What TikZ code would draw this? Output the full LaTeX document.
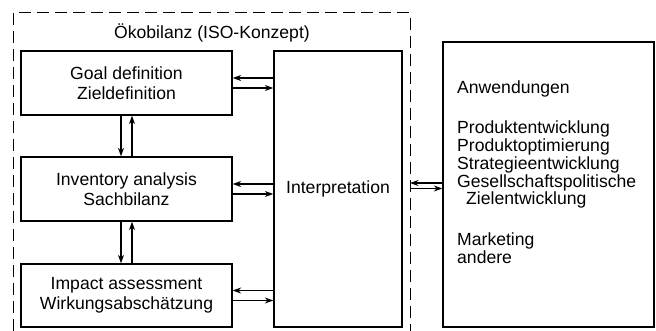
\documentclass[tikz,border=0pt]{standalone}
\usepackage{fontspec}
\setmainfont{Liberation Sans}
\usetikzlibrary{arrows.meta,calc}
\begin{document}
\begin{tikzpicture}[x=1pt,y=-1pt,
  txt/.style={font=\fontsize{17.6}{20.5}\selectfont},
  box/.style={draw,line width=1.3pt,inner sep=0pt,align=center,txt},
  link/.style={line width=1.2pt,-{Stealth[length=8.5pt,width=6pt]}}]
\useasboundingbox (0,0) rectangle (656,331);
% dashed frame of the ISO concept (open at the bottom)
\draw[line width=1pt,dash pattern=on 12pt off 6pt] (13,331) |- (410,13) -- (410,331);
\node[txt] (title) at (212,33) {Ökobilanz (ISO-Konzept)};
% phases
\node[box,minimum width=211pt,minimum height=64pt] (goal) at (126.5,83) {Goal definition\\Zieldefinition};
\node[box,minimum width=211pt,minimum height=64pt] (inv) at (126.5,189) {Inventory analysis\\Sachbilanz};
\node[box,minimum width=211pt,minimum height=63pt] (imp) at (126.5,295.5) {Impact assessment\\Wirkungsabschätzung};
\node[box,minimum width=128pt,minimum height=276pt] (interp) at (338,189) {Interpretation};
% applications
\node[box,minimum width=211pt,minimum height=285pt] (anw) at (548.5,184.5) {};
\node[anchor=north west,align=left,inner sep=0pt,font=\fontsize{17.6}{17.8}\selectfont] (anwtext) at (457,81)
  {Anwendungen\\[22pt]
   Produktentwicklung\\
   Produktoptimierung\\
   Strategieentwicklung\\
   Gesellschaftspolitische\\
   \hspace*{9pt}Zielentwicklung\\[23pt]
   Marketing\\
   andere};
% phase <-> interpretation
\foreach \n in {goal,inv,imp}{
  \draw[link] ($(interp.west)!(\n.east)!(interp.north west)+(0,-5)$) -- ($(\n.east)+(0,-5)$);
  \draw[link] ($(\n.east)+(0,5)$) -- ($(interp.west)!(\n.east)!(interp.north west)+(0,5)$);
}
% phase <-> phase
\draw[link] ($(goal.south)+(-5.5,0)$) -- ($(inv.north)+(-5.5,0)$);
\draw[link] ($(inv.north)+(5.5,0)$) -- ($(goal.south)+(5.5,0)$);
\draw[link] ($(inv.south)+(-5.5,0)$) -- ($(imp.north)+(-5.5,0)$);
\draw[link] ($(imp.north)+(5.5,0)$) -- ($(inv.south)+(5.5,0)$);
% frame <-> applications
\coordinate (fa) at (410,183);
\coordinate (fb) at (410,188.5);
\draw[link] (anw.west |- fa) -- (fa);
\draw[link] (fb) -- (anw.west |- fb);
\end{tikzpicture}
\end{document}
